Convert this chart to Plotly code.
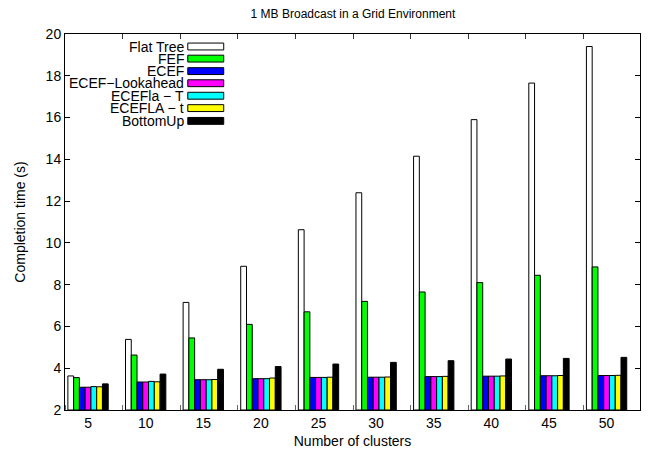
import plotly.graph_objects as go

categories = ["5", "10", "15", "20", "25", "30", "35", "40", "45", "50"]
series_names = ["Flat Tree", "FEF", "ECEF", "ECEF\u2212Lookahead", "ECEFla \u2212 T", "ECEFLA \u2212 t", "BottomUp"]
flat_tree = [3.63, 5.38, 7.15, 8.88, 10.63, 12.4, 14.15, 15.9, 17.65, 19.4]
fef = [3.55, 4.63, 5.45, 6.1, 6.7, 7.2, 7.65, 8.1, 8.45, 8.85]
ecef = [3.09, 3.34, 3.45, 3.5, 3.56, 3.57, 3.6, 3.62, 3.64, 3.65]
ecef_lookahead = [3.09, 3.34, 3.45, 3.5, 3.56, 3.57, 3.6, 3.62, 3.64, 3.65]
ecefla_t_upper = [3.12, 3.37, 3.45, 3.5, 3.56, 3.57, 3.6, 3.62, 3.64, 3.65]
ecefla_t_lower = [3.11, 3.35, 3.46, 3.53, 3.57, 3.58, 3.61, 3.63, 3.65, 3.66]
bottom_up = [3.25, 3.72, 3.95, 4.08, 4.2, 4.28, 4.36, 4.44, 4.47, 4.52]
series_values = [flat_tree, fef, ecef, ecef_lookahead, ecefla_t_upper, ecefla_t_lower, bottom_up]
colors = ["#ffffff", "#00ff00", "#0000ff", "#ff00ff", "#00ffff", "#ffff00", "#000000"]
y_ticks = [2, 4, 6, 8, 10, 12, 14, 16, 18, 20]

W, H = 651, 457
L, R, T, B = 65, 10, 34, 41
pw, ph = W - L - R, H - T - B

xpos = list(range(1, len(categories) + 1))
xrange_ = [0.6, 10.58]
sep_ticks = [k - 0.4 for k in xpos]

fig = go.Figure()
for name, vals, col in zip(series_names, series_values, colors):
    fig.add_trace(go.Bar(
        x=xpos, y=[v - 2 for v in vals], base=2, name=name,
        marker=dict(color=col, line=dict(color="#000000", width=1)),
        showlegend=False, hoverinfo="skip",
    ))
# invisible helper so the top tick axis is drawn
fig.add_trace(go.Scatter(x=[xpos[0]], y=[y_ticks[0]], xaxis="x2", yaxis="y", mode="markers",
                         marker=dict(opacity=0), showlegend=False, hoverinfo="skip"))

font = "Liberation Sans, Arial, Helvetica, sans-serif"

fig.update_layout(
    width=W, height=H,
    margin=dict(l=L, r=R, t=T, b=B),
    paper_bgcolor="white", plot_bgcolor="white",
    barmode="group", bargap=0.3, bargroupgap=0,
    font=dict(family=font, size=14, color="#000000"),
    title=dict(text="1 MB Broadcast in a Grid Environment", x=(L + pw / 2) / W, xanchor="center",
               y=1 - 14 / H, yanchor="middle", font=dict(size=12)),
    xaxis=dict(
        range=xrange_, tickvals=xpos, ticktext=categories, ticks="",
        showline=True, linecolor="#000000", linewidth=1, mirror=True,
        showgrid=False, zeroline=False, tickfont=dict(size=14),
        minor=dict(tickvals=sep_ticks, ticks="inside", ticklen=5,
                   tickcolor="#666666", showgrid=False),
        title=dict(text="Number of clusters", standoff=6, font=dict(size=14)),
    ),
    xaxis2=dict(
        overlaying="x", side="top", anchor="y", range=xrange_, tickvals=sep_ticks,
        ticks="inside", ticklen=5, tickcolor="#333333", showticklabels=False,
        showline=False, showgrid=False, zeroline=False,
    ),
    yaxis=dict(
        range=[2, 20], tickvals=y_ticks, ticks="inside", ticklen=5, tickcolor="#000000",
        showline=True, linecolor="#000000", linewidth=1, mirror="ticks",
        showgrid=False, zeroline=False, tickfont=dict(size=14),
        title=dict(text="Completion time (s)", standoff=16, font=dict(size=14)),
    ),
)

# gnuplot-style key: right-aligned text then colour sample box
row_y = [46.7, 59.0, 71.7, 84.0, 96.7, 109.3, 122.3]
box_x0, box_x1, box_h = 188, 224, 7
for name, col, ry in zip(series_names, colors, row_y):
    fig.add_shape(type="rect", xref="paper", yref="paper",
                  x0=(box_x0 - L) / pw, x1=(box_x1 - L) / pw,
                  y0=(H - B - (ry + box_h / 2)) / ph, y1=(H - B - (ry - box_h / 2)) / ph,
                  fillcolor=col, line=dict(color="#000000", width=1))
    fig.add_annotation(xref="paper", yref="paper", x=(box_x0 - 3 - L) / pw,
                       y=(H - B - ry) / ph, text=name, showarrow=False, borderpad=0,
                       xanchor="right", yanchor="middle", font=dict(size=14))

fig.write_html("out.html", config={"displayModeBar": False},
               post_script="document.body.style.margin='0px';")
